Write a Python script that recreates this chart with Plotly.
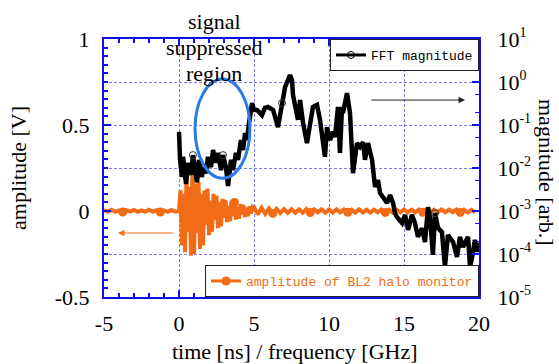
import numpy as np
import plotly.graph_objects as go

# ---------------- data ----------------
# FFT magnitude (right axis, log) : frequency [GHz] and log10(magnitude)
fft_freq = [0.00, 0.07, 0.20, 0.27, 0.47, 0.60, 0.80, 0.93, 1.20, 1.33,
            1.53, 1.60, 1.80, 1.93, 2.13, 2.27, 2.47, 2.60, 2.80, 2.93,
            3.13, 3.27, 3.47, 3.60, 3.80, 3.93, 4.13, 4.27, 4.40, 4.53,
            4.67, 4.87, 5.00, 5.20, 5.53, 5.73, 5.93, 6.27, 6.60, 6.87,
            7.07, 7.40, 7.53, 7.60, 7.73, 7.93, 8.07, 8.27, 8.53, 8.73,
            8.93, 9.20, 9.40, 9.73, 9.87, 10.07, 10.27, 10.40, 10.60, 10.73,
            10.87, 10.93, 11.20, 11.40, 11.60, 11.87, 12.07, 12.27, 12.40, 12.60,
            12.87, 13.07, 13.27, 13.40, 13.60, 13.87, 14.07, 14.27, 14.40, 14.53,
            14.87, 15.07, 15.27, 15.53, 15.73, 15.93, 16.20, 16.40, 16.60, 16.73,
            16.93, 17.07, 17.27, 17.53, 17.73, 17.93, 18.27, 18.53, 18.73, 18.93,
            19.27, 19.40, 19.53, 19.73, 19.87, 20.00]
fft_log10_mag = [-1.16, -1.81, -2.21, -1.74, -2.37, -1.88, -2.16, -1.70, -2.33, -1.81,
                 -2.21, -1.98, -2.12, -1.74, -1.98, -1.58, -1.88, -1.65, -2.05, -1.70,
                 -1.98, -2.42, -1.81, -2.05, -1.65, -1.81, -1.35, -1.58, -1.19, -1.35,
                 -0.95, -0.49, -0.65, -0.65, -0.77, -0.60, -0.58, -0.65, -1.05, -0.49,
                 -0.12, 0.16, 0.05, -0.30, -0.49, -0.88, -0.42, -0.95, -1.42, -1.05,
                 -0.58, -0.53, -0.88, -1.74, -1.05, -1.35, -1.16, -1.28, -0.58, -1.65,
                 -0.58, -0.72, -0.26, -0.72, -2.12, -1.42, -1.51, -1.40, -1.81, -1.42,
                 -1.81, -2.44, -2.28, -2.58, -2.67, -2.81, -2.63, -2.81, -3.05, -3.14,
                 -3.28, -3.09, -3.44, -3.09, -3.28, -3.60, -3.40, -3.72, -2.91, -3.14,
                 -4.02, -3.05, -3.40, -3.49, -4.30, -3.56, -3.72, -4.07, -3.60, -3.84,
                 -3.60, -4.30, -4.09, -3.67, -3.95, -3.74]
fft_marker_freq = [0.93, 2.93, 6.87, 17.07]

# Amplitude of BL2 halo monitor (left axis) : time [ns] and amplitude [V]
amp_pre_start, amp_pre_step = -5.0, 0.25
amp_pre = [0.006, -0.004, 0.007, -0.005, 0.004, -0.006, 0.005, -0.004, 0.006, -0.005,
           0.004, -0.005, 0.007, -0.004, 0.005, -0.006, 0.004, -0.005, 0.006, -0.004]
amp_burst_start, amp_burst_step = 0.0, 0.1
amp_burst = [0.0, 0.12, -0.20, 0.10, -0.24, 0.20, -0.12, 0.14, -0.26, 0.27,
             -0.25, 0.16, -0.10, 0.17, -0.22, 0.10, -0.20, 0.12, -0.08, 0.13,
             -0.14, 0.06, -0.12, 0.10, -0.05, 0.09, -0.10, 0.05, -0.09, 0.07,
             -0.04, 0.065, -0.065, 0.03, -0.06, 0.06, -0.03, 0.05, -0.05, 0.025,
             -0.045, 0.04, -0.02, 0.035, -0.035, 0.02, -0.03, 0.028, -0.015, 0.025]
amp_post_start, amp_post_step = 5.0, 0.25
amp_post = [0.022, -0.020, 0.018, -0.017, 0.015, -0.014, 0.013, -0.012, 0.011, -0.011,
            0.010, -0.010, 0.009, -0.010, 0.011, -0.009, 0.010, -0.008, 0.009, -0.010,
            0.008, -0.009, 0.010, -0.008, 0.009, -0.007, 0.008, -0.009, 0.010, -0.008,
            0.007, -0.009, 0.008, -0.007, 0.009, -0.008, 0.007, -0.009, 0.008, -0.007,
            0.009, -0.008, 0.007, -0.008, 0.009, -0.007, 0.008, -0.009, 0.007, -0.008,
            0.009, -0.007, 0.008, -0.007, 0.009, -0.008, 0.007, -0.008, 0.006, -0.007]
amp_marker_time = [-3.75, -1.25, 1.2, 3.7, 6.25, 8.75, 11.25, 13.75, 16.25, 18.75]

x_tick_vals = [-5, 0, 5, 10, 15, 20]
x_tick_text = ["-5", "0", "5", "10", "15", "20"]
y_tick_vals = [-0.5, 0, 0.5, 1]
y_tick_text = ["-0.5", "0", "0.5", "1"]
y2_exponents = [-5, -4, -3, -2, -1, 0, 1]

# ---------------- assemble ----------------
amp_t = ([amp_pre_start + amp_pre_step * i for i in range(len(amp_pre))]
         + [amp_burst_start + amp_burst_step * i for i in range(len(amp_burst))]
         + [amp_post_start + amp_post_step * i for i in range(len(amp_post))])
amp_v = amp_pre + amp_burst + amp_post
amp_t = np.round(np.array(amp_t), 3)
amp_v = np.array(amp_v)

fft_mag = 10.0 ** np.array(fft_log10_mag)
fft_f = np.array(fft_freq)

def nearest(arr, vals):
    return [int(np.argmin(np.abs(arr - v))) for v in vals]

am_idx = nearest(amp_t, amp_marker_time)
fm_idx = nearest(fft_f, fft_marker_freq)

BLACK = "#000000"
ORANGE = "#F26B16"
AXBLUE = "#1010EE"
GRIDBLUE = "#7C7CF0"
ELL = "#2B7BE6"
SERIF = "Liberation Serif, serif"
MONO = "Liberation Mono, monospace"

def serif_span(s):
    return "<span style='font-family:Liberation Serif'>%s</span>" % s

fig = go.Figure()

# FFT magnitude (right log axis)
fig.add_trace(go.Scatter(x=fft_f, y=fft_mag, mode="lines", yaxis="y2",
                         line=dict(color=BLACK, width=4.5), showlegend=False))
fig.add_trace(go.Scatter(x=fft_f[fm_idx], y=fft_mag[fm_idx], mode="markers", yaxis="y2",
                         marker=dict(symbol="circle-open", size=7, color="#333333",
                                     line=dict(width=1)), showlegend=False))
# amplitude (left axis)
fig.add_trace(go.Scatter(x=amp_t, y=amp_v, mode="lines",
                         line=dict(color=ORANGE, width=4), showlegend=False))
fig.add_trace(go.Scatter(x=amp_t[am_idx], y=amp_v[am_idx], mode="markers",
                         marker=dict(symbol="circle", size=9, color=ORANGE), showlegend=False))

# legend entries
fig.add_trace(go.Scatter(x=[None], y=[None], mode="lines+markers", name="FFT magnitude",
                         line=dict(color=BLACK, width=3),
                         marker=dict(symbol="circle-open", size=7, color=BLACK),
                         legend="legend"))
fig.add_trace(go.Scatter(x=[None], y=[None], mode="lines+markers",
                         name="amplitude of BL2 halo monitor",
                         line=dict(color=ORANGE, width=3),
                         marker=dict(symbol="circle", size=9, color=ORANGE),
                         legend="legend2"))

tickfont = dict(family=SERIF, size=22, color="black")

fig.update_layout(
    width=559, height=364,
    font=dict(family=SERIF, size=22, color="black"),
    margin=dict(l=104, r=80, t=39, b=67, pad=0),
    paper_bgcolor="white", plot_bgcolor="white",
    xaxis=dict(range=[-5, 20], tickvals=x_tick_vals,
               ticktext=[serif_span(t) for t in x_tick_text],
               ticks="inside", ticklen=7,
               tickwidth=1.5, tickcolor=AXBLUE, showline=True, linecolor=AXBLUE,
               linewidth=2, mirror="ticks", showgrid=True, gridcolor=GRIDBLUE,
               gridwidth=1, griddash="3px,2px", zeroline=False,
               tickfont=dict(tickfont), ticklabelstandoff=6,
               minor=dict(dtick=1, ticks="inside", ticklen=4, tickcolor=AXBLUE,
                          tickwidth=1.5, showgrid=False)),
    yaxis=dict(range=[-0.5, 1], tickvals=y_tick_vals,
               ticktext=[serif_span(t) for t in y_tick_text],
               ticks="inside", ticklen=7, tickwidth=1.5, tickcolor=AXBLUE,
               showline=True, linecolor=AXBLUE, linewidth=2, showgrid=False,
               zeroline=False, tickfont=dict(tickfont), ticklabelstandoff=8,
               minor=dict(dtick=0.05, ticks="inside", ticklen=4, tickcolor=AXBLUE,
                          tickwidth=1.5, showgrid=False)),
    yaxis2=dict(type="log", overlaying="y", side="right", range=[-5, 1],
                tickvals=[10.0 ** e for e in y2_exponents],
                ticktext=[serif_span("10<sup><span style='font-size:14px'>%d</span></sup>" % e)
                          for e in y2_exponents],
                ticks="inside", ticklen=7, tickwidth=1.5, tickcolor=AXBLUE,
                showline=True, linecolor=AXBLUE, linewidth=2, showgrid=True,
                gridcolor=GRIDBLUE, gridwidth=1, griddash="3px,2px", zeroline=False,
                tickfont=dict(tickfont), ticklabelstandoff=12,
                minor=dict(ticks="inside", ticklen=4, tickcolor=AXBLUE, tickwidth=1,
                           showgrid=False)),
    legend=dict(x=1, y=1, xanchor="right", yanchor="top", bgcolor="white",
                bordercolor="#222222", borderwidth=1,
                font=dict(family=MONO, size=13, color="black"),
                itemwidth=30, tracegroupgap=0),
    legend2=dict(x=1, y=0, xanchor="right", yanchor="bottom", bgcolor="white",
                 bordercolor="#222222", borderwidth=1,
                 font=dict(family=MONO, size=13, color=ORANGE),
                 itemwidth=30, tracegroupgap=0),
    showlegend=True,
)

def px2paper(px, py):
    return (px - 104) / 375.0, (297 - py) / 258.0

anns = []
for txt, py in [("signal", 21), ("suppressed", 48), ("region", 73)]:
    xp, yp = px2paper(214, py)
    anns.append(dict(text=txt, x=xp, y=yp, xref="paper", yref="paper", showarrow=False,
                     xanchor="center", yanchor="middle",
                     font=dict(family=SERIF, size=22, color="black")))
xp, yp = px2paper(295, 351)
anns.append(dict(text="time [ns] / frequency [GHz]", x=xp, y=yp, xref="paper", yref="paper",
                 showarrow=False, xanchor="center", yanchor="middle",
                 font=dict(family=SERIF, size=22, color="black")))
xp, yp = px2paper(18, 168)
anns.append(dict(text="amplitude [V]", x=xp, y=yp, xref="paper", yref="paper",
                 showarrow=False, xanchor="center", yanchor="middle", textangle=-90,
                 font=dict(family=SERIF, size=22, color="black")))
xp, yp = px2paper(547, 172)
anns.append(dict(text="magnitude [arb.]", x=xp, y=yp, xref="paper", yref="paper",
                 showarrow=False, xanchor="center", yanchor="middle", textangle=90,
                 font=dict(family=SERIF, size=22, color="black")))
# direction arrows
anns.append(dict(text="", x=19.07, y=0.645, ax=12.73, ay=0.645, xref="x", yref="y",
                 axref="x", ayref="y", showarrow=True, arrowhead=2, arrowsize=1.3,
                 arrowwidth=1, arrowcolor="#222222"))
anns.append(dict(text="", x=-4.07, y=-0.128, ax=-0.27, ay=-0.128, xref="x", yref="y",
                 axref="x", ayref="y", showarrow=True, arrowhead=2, arrowsize=1.3,
                 arrowwidth=1, arrowcolor=ORANGE))
fig.update_layout(annotations=anns)

fig.add_shape(type="circle", xref="x", yref="y", x0=1.07, x1=4.73, y0=0.19, y1=0.767,
              line=dict(color=ELL, width=3))

fig.write_html("out.html")
